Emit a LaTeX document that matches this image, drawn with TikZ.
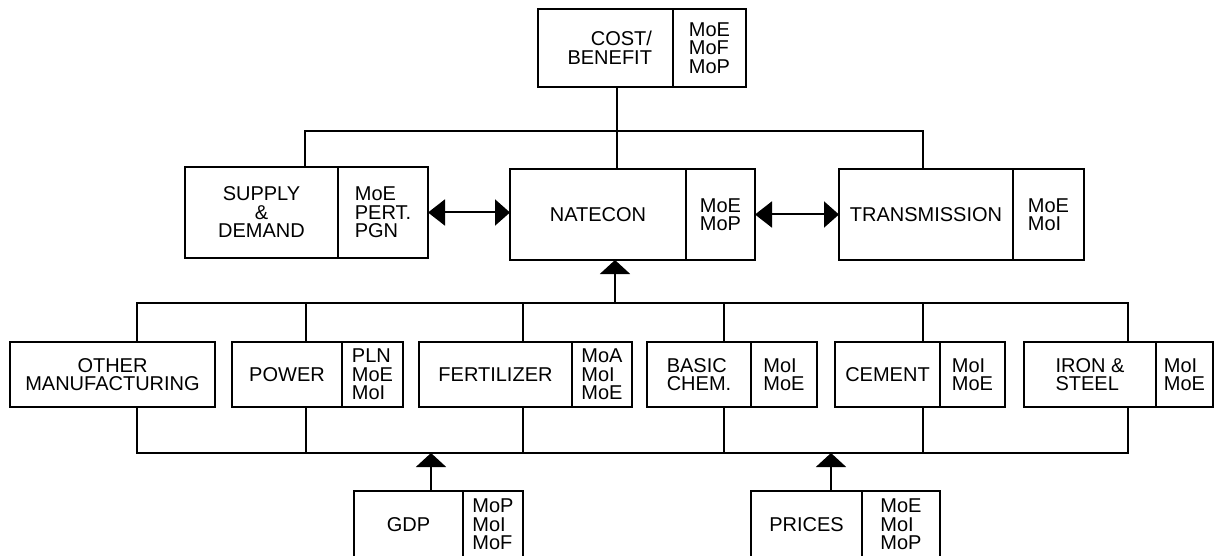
\documentclass[tikz,border=0pt]{standalone}
\usepackage{fontspec}
\setmainfont{Liberation Sans}
\usetikzlibrary{positioning}
\usetikzlibrary{arrows.meta}
\tikzset{
	block/.style={
		rectangle,
		draw,
		align=center,
		anchor=north west,
		inner sep=2pt,
		outer sep=0pt,
		line width=2.4pt
	},
	agency/.style={
		rectangle,
		draw,
		align=left,
		inner sep=2pt,
		outer sep=0pt,
		line width=2.4pt
	},
	feed/.style={-{Triangle[width=30pt,length=14pt]}},
	twoway/.style={{Triangle[width=26pt,length=17pt]}-{Triangle[width=26pt,length=15pt]}}
}

\begin{document}
\begin{tikzpicture}[x=1pt,y=-1pt,line width=2pt,line cap=rect,font=\fontsize{20}{18.5}\selectfont]
	\useasboundingbox (0,0) rectangle (1218,556);

	% top level
	\node[block, align=right, text width=93pt, minimum width=135pt, minimum height=78pt] (cost) at (538,9) {COST/\\BENEFIT};
	\node[agency, right=0pt of cost, minimum width=73pt, minimum height=78pt] (costm) {MoE\\MoF\\MoP};

	% middle level
	\node[block, minimum width=153pt, minimum height=91pt] (supply) at (185,167) {SUPPLY\\\&\\DEMAND};
	\node[agency, right=0pt of supply, minimum width=90pt, minimum height=91pt] (supplym) {MoE\\PERT.\\PGN};
	\node[block, minimum width=176pt, minimum height=91pt] (natecon) at (510,169) {NATECON};
	\node[agency, right=0pt of natecon, minimum width=69pt, minimum height=91pt] (natecm) {MoE\\MoP};
	\node[block, minimum width=174pt, minimum height=91pt] (trans) at (839,169) {TRANSMISSION};
	\node[agency, right=0pt of trans, minimum width=71pt, minimum height=91pt] (transm) {MoE\\MoI};

	% sectors
	\node[block, minimum width=205pt, minimum height=65pt] (other) at (10,342) {OTHER\\MANUFACTURING};
	\node[block, minimum width=110pt, minimum height=65pt] (power) at (232,342) {POWER};
	\node[agency, right=0pt of power, minimum width=61pt, minimum height=65pt] (powerm) {PLN\\MoE\\MoI};
	\node[block, minimum width=153pt, minimum height=65pt] (fert) at (419,342) {FERTILIZER};
	\node[agency, right=0pt of fert, minimum width=60pt, minimum height=65pt] (fertm) {MoA\\MoI\\MoE};
	\node[block, align=left, minimum width=104pt, minimum height=65pt] (chem) at (647,342) {BASIC\\CHEM.};
	\node[agency, right=0pt of chem, minimum width=66pt, minimum height=65pt] (chemm) {MoI\\MoE};
	\node[block, minimum width=105pt, minimum height=65pt] (cement) at (835,342) {CEMENT};
	\node[agency, right=0pt of cement, minimum width=65pt, minimum height=65pt] (cementm) {MoI\\MoE};
	\node[block, align=left, minimum width=132pt, minimum height=65pt] (iron) at (1024,342) {IRON \&\\STEEL};
	\node[agency, right=0pt of iron, minimum width=57pt, minimum height=65pt] (ironm) {MoI\\MoE};

	% inputs
	\node[block, minimum width=109pt, minimum height=67pt] (gdp) at (354,491) {GDP};
	\node[agency, right=0pt of gdp, minimum width=60pt, minimum height=67pt] (gdpm) {MoP\\MoI\\MoF};
	\node[block, minimum width=111pt, minimum height=67pt] (prices) at (751,491) {PRICES};
	\node[agency, right=0pt of prices, minimum width=78pt, minimum height=67pt] (pricesm) {MoE\\MoI\\MoP};

	% top bus
	\coordinate (topL) at (305,131);
	\coordinate (topM) at (617,131);
	\coordinate (topR) at (923,131);
	\draw (topL) -- (topR);
	\draw (topM) -- (topM |- cost.south);
	\draw (topL) -- (topL |- supply.north);
	\draw (topM) -- (topM |- natecon.north);
	\draw (topR) -- (topR |- trans.north);

	\draw[twoway] (supplym.east) -- (supplym.east -| natecon.west);
	\draw[twoway] (natecm.east) -- (natecm.east -| trans.west);

	% sector buses
	\coordinate (midL) at (137,303);
	\coordinate (midR) at (1128,303);
	\coordinate (midN) at (615,303);
	\coordinate (botL) at (137,453);
	\coordinate (botR) at (1128,453);
	\coordinate (botG) at (431,453);
	\coordinate (botP) at (831,453);
	\draw (midL) -- (midR);
	\draw (botL) -- (botR);
	\draw[feed] (midN) -- (midN |- natecon.south);
	\foreach \x/\n in {137/other,306/power,523/fert,724/chem,923/cement,1128/iron}{
		\draw (\x,303) -- (\x,0 |- \n.north);
		\draw (\x,0 |- \n.south) -- (\x,453);
	}
	\draw[feed] (botG |- gdp.north) -- (botG);
	\draw[feed] (botP |- prices.north) -- (botP);
\end{tikzpicture}
\end{document}
